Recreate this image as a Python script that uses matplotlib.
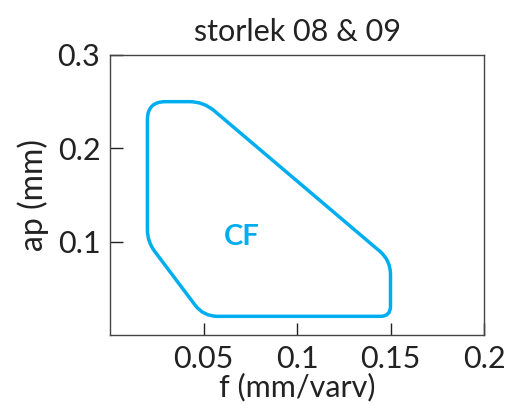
import numpy as np
import matplotlib
matplotlib.use("Agg")
import matplotlib.pyplot as plt
from matplotlib.path import Path
from matplotlib.patches import PathPatch

# region corners (f, ap)
f_pts = [0.02, 0.02, 0.05, 0.15, 0.15, 0.05]
ap_pts = [0.10, 0.25, 0.25, 0.08, 0.02, 0.02]
region_label = "CF"
label_pos = (0.0705, 0.105)
color = "#00AEEF"

plt.rcParams['font.family'] = ['Lato', 'DejaVu Sans']

fig = plt.figure(figsize=(5.21, 4.12), dpi=100)
ax = fig.add_axes([110 / 521, (412 - 335) / 412, 374 / 521, 280 / 412])
ax.set_xlim(0, 0.2)
ax.set_ylim(0, 0.3)

# rounded polygon: work in pixel units then scale back
sx = 0.2 / 374
sy = 0.3 / 280
pts = np.column_stack([np.array(f_pts) / sx, np.array(ap_pts) / sy])
radii = [12, 18, 14, 14, 10, 14]
verts, codes = [], []
n = len(pts)
for i in range(n):
    p = pts[i]
    a = pts[i - 1]
    b = pts[(i + 1) % n]
    da = (a - p) / np.linalg.norm(a - p)
    db = (b - p) / np.linalg.norm(b - p)
    r = radii[i]
    verts.append(p + da * r)
    codes.append(Path.MOVETO if i == 0 else Path.LINETO)
    verts += [p, p + db * r]
    codes += [Path.CURVE3, Path.CURVE3]
verts.append(verts[0])
codes.append(Path.CLOSEPOLY)
verts = np.array(verts) * [sx, sy]
ax.add_patch(PathPatch(Path(verts, codes), fill=False, edgecolor=color, lw=2.5))

ax.text(label_pos[0], label_pos[1], region_label, color=color, fontsize=21,
        fontweight='bold', ha='center', va='center')

ax.set_xticks([0.05, 0.1, 0.15, 0.2])
ax.set_xticklabels(["0.05", "0.1", "0.15", "0.2"])
ax.set_yticks([0.1, 0.2, 0.3])
ax.set_yticklabels(["0.1", "0.2", "0.3"])
ax.tick_params(direction='in', length=9, width=1, labelsize=22, colors='#222222', pad=7)
for s in ax.spines.values():
    s.set_color('#444444')
    s.set_linewidth(1)

ax.set_xlabel("f (mm/varv)", fontsize=22, color='#222222', labelpad=0)
ax.set_ylabel("ap (mm)", fontsize=23, color='#222222', labelpad=6)
ax.set_title("storlek 08 & 09", fontsize=22, color='#222222', pad=10)

fig.savefig("out.png", dpi=100)
